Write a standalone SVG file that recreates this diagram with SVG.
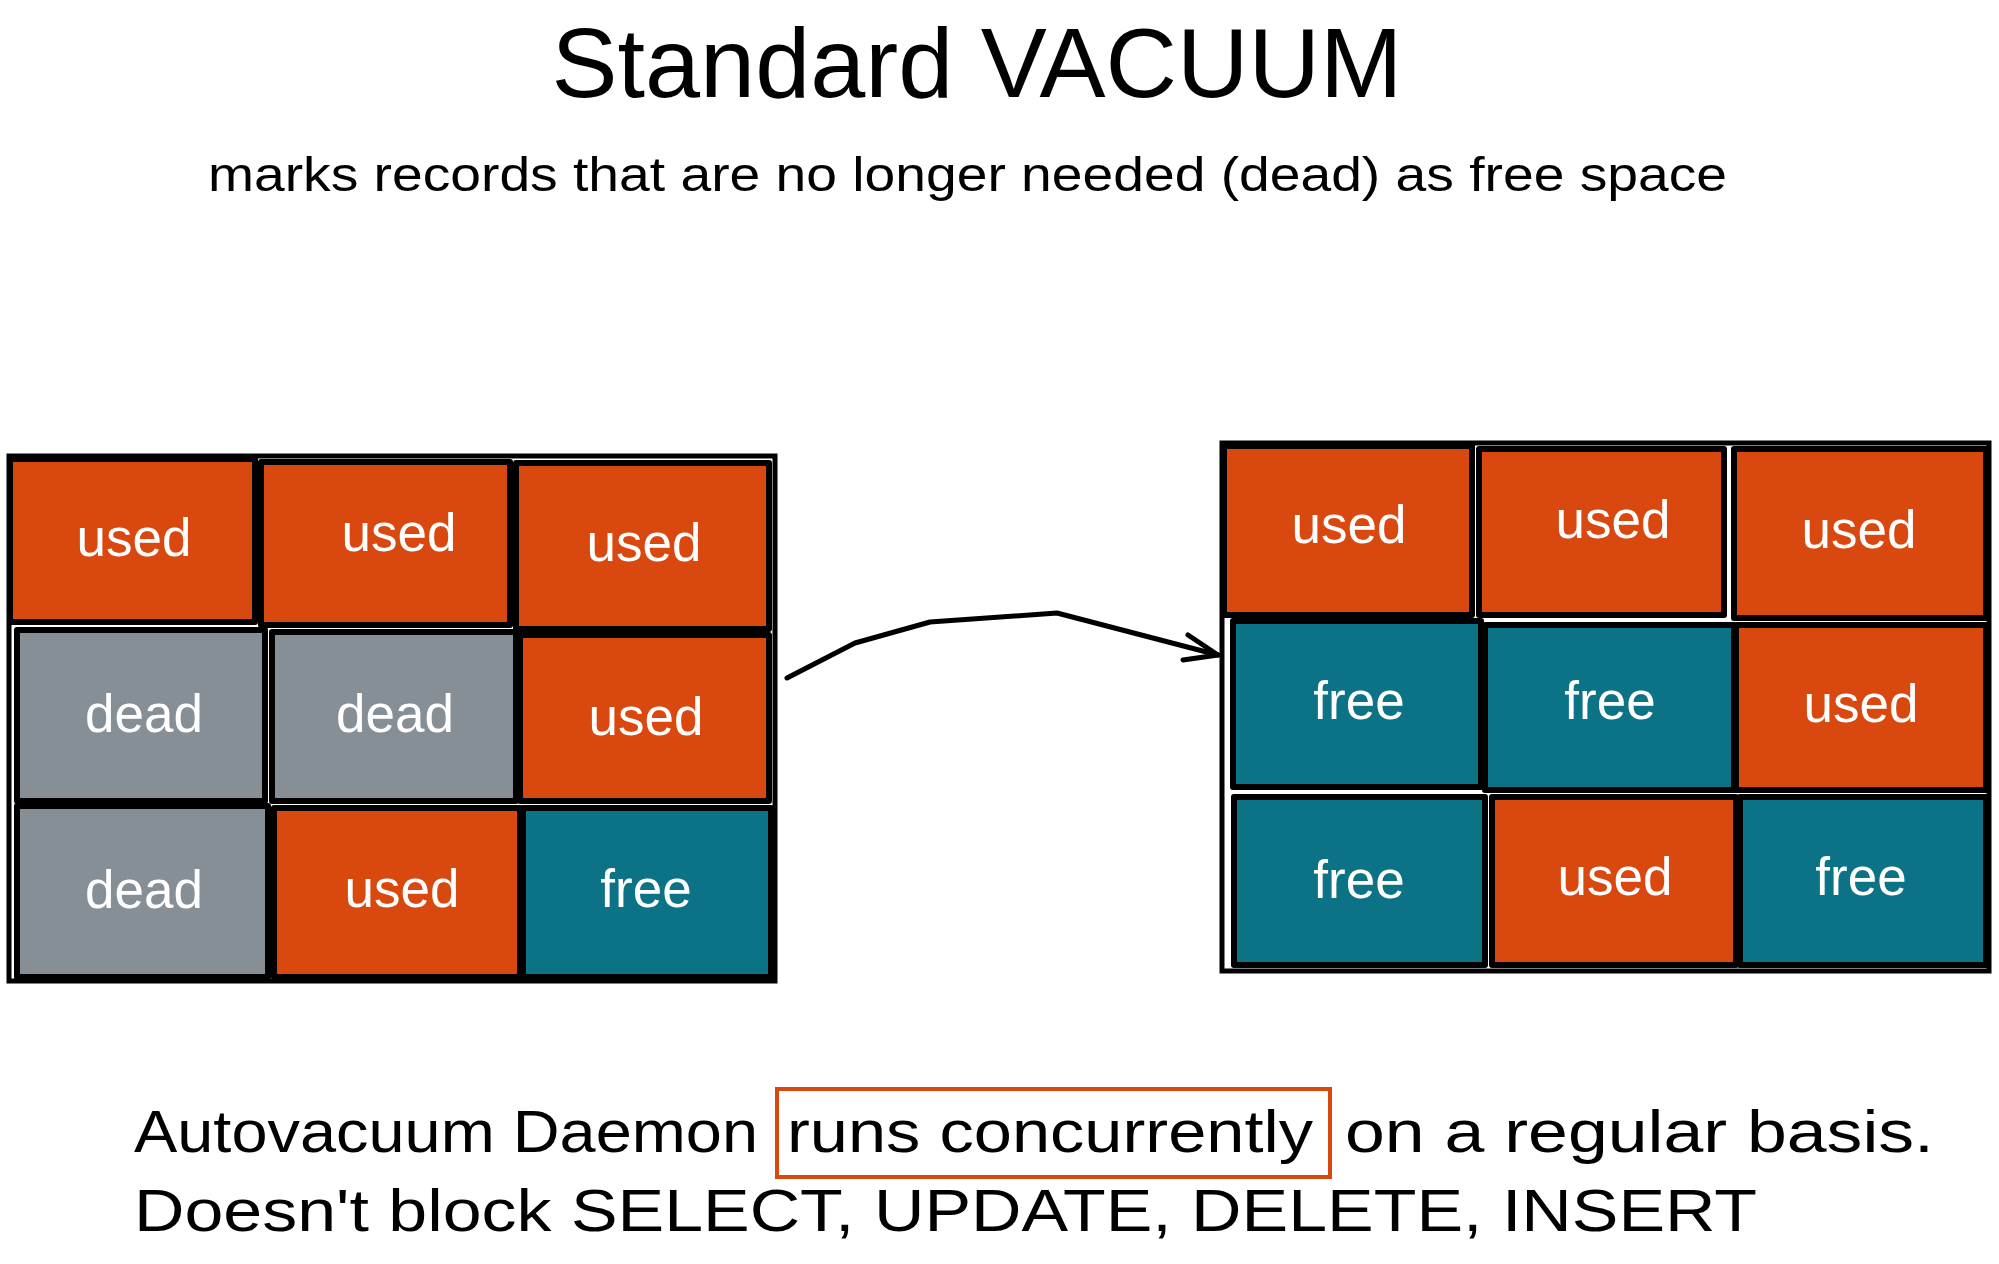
<svg xmlns="http://www.w3.org/2000/svg" width="1999" height="1264" viewBox="0 0 1999 1264">
<defs>
<style>
.bg{fill:#ffffff}
.cell{stroke:#000;stroke-width:6;stroke-linejoin:round}
.used{fill:#d9480f}
.dead{fill:#868e96}
.free{fill:#0c7285}
.outer{fill:none;stroke:#000;stroke-width:5}
.lbl{font-family:"Liberation Sans",Arial,sans-serif;font-size:53px;fill:#fff;text-anchor:middle}
.txt{font-family:"Liberation Sans",Arial,sans-serif;fill:#000}
.conn{fill:none;stroke:#000;stroke-width:5;stroke-linecap:round;stroke-linejoin:round}
</style>
</defs>
<rect class="bg" x="0" y="0" width="1999" height="1264"/>

<g id="title">
<text class="txt" x="977" y="97" font-size="98" text-anchor="middle" textLength="851" lengthAdjust="spacingAndGlyphs">Standard VACUUM</text>
</g>
<g id="subtitle">
<text class="txt" x="208" y="191" font-size="48" textLength="1519" lengthAdjust="spacingAndGlyphs">marks records that are no longer needed (dead) as free space</text>
</g>

<g id="left-table">
<rect class="outer" x="9" y="456" width="766" height="525"/>
<g id="l-r1c1"><rect class="cell used" x="10" y="459" width="245" height="163"/><text class="lbl" x="134" y="556">used</text></g>
<g id="l-r1c2"><rect class="cell used" x="261" y="462" width="249" height="163"/><text class="lbl" x="399" y="551">used</text></g>
<g id="l-r1c3"><rect class="cell used" x="516" y="463" width="253" height="166"/><text class="lbl" x="644" y="561">used</text></g>
<g id="l-r2c1"><rect class="cell dead" x="17" y="630" width="248" height="171"/><text class="lbl" x="144" y="732">dead</text></g>
<g id="l-r2c2"><rect class="cell dead" x="272" y="632" width="244" height="169"/><text class="lbl" x="395" y="732">dead</text></g>
<g id="l-r2c3"><rect class="cell used" x="520" y="635" width="249" height="166"/><text class="lbl" x="646" y="735">used</text></g>
<g id="l-r3c1"><rect class="cell dead" x="17" y="806" width="251" height="171"/><text class="lbl" x="144" y="908">dead</text></g>
<g id="l-r3c2"><rect class="cell used" x="274" y="808" width="246" height="169"/><text class="lbl" x="402" y="907">used</text></g>
<g id="l-r3c3"><rect class="cell free" x="523" y="808" width="248" height="169"/><text class="lbl" x="646" y="907">free</text></g>
</g>

<g id="right-table">
<rect class="outer" x="1222" y="443" width="767" height="528"/>
<g id="r-r1c1"><rect class="cell used" x="1224" y="446" width="248" height="169"/><text class="lbl" x="1349" y="543">used</text></g>
<g id="r-r1c2"><rect class="cell used" x="1479" y="449" width="245" height="166"/><text class="lbl" x="1613" y="538">used</text></g>
<g id="r-r1c3"><rect class="cell used" x="1734" y="449" width="252" height="169"/><text class="lbl" x="1859" y="548">used</text></g>
<g id="r-r2c1"><rect class="cell free" x="1233" y="621" width="248" height="166"/><text class="lbl" x="1359" y="719">free</text></g>
<g id="r-r2c2"><rect class="cell free" x="1485" y="625" width="249" height="165"/><text class="lbl" x="1610" y="719">free</text></g>
<g id="r-r2c3"><rect class="cell used" x="1736" y="625" width="250" height="165"/><text class="lbl" x="1861" y="722">used</text></g>
<g id="r-r3c1"><rect class="cell free" x="1234" y="797" width="251" height="168"/><text class="lbl" x="1359" y="898">free</text></g>
<g id="r-r3c2"><rect class="cell used" x="1492" y="797" width="244" height="168"/><text class="lbl" x="1615" y="895">used</text></g>
<g id="r-r3c3"><rect class="cell free" x="1740" y="797" width="246" height="168"/><text class="lbl" x="1861" y="895">free</text></g>
</g>

<g id="connectors">
<path class="conn" d="M787,678 L855,643 L930,622 L1057,613 L1218,655"/>
<path class="conn" d="M1188,635 L1218,655 L1183,660"/>
</g>

<g id="footer">
<rect x="777" y="1089" width="553" height="88" fill="none" stroke="#d9480f" stroke-width="4"/>
<text class="txt" font-size="60" x="134" y="1152" textLength="624" lengthAdjust="spacingAndGlyphs">Autovacuum Daemon</text>
<text class="txt" font-size="60" x="787" y="1152" textLength="526" lengthAdjust="spacingAndGlyphs">runs concurrently</text>
<text class="txt" font-size="60" x="1345" y="1152" textLength="589" lengthAdjust="spacingAndGlyphs">on a regular basis.</text>
<text class="txt" font-size="60" x="134" y="1231" textLength="1623" lengthAdjust="spacingAndGlyphs">Doesn't block SELECT, UPDATE, DELETE, INSERT</text>
</g>
</svg>
